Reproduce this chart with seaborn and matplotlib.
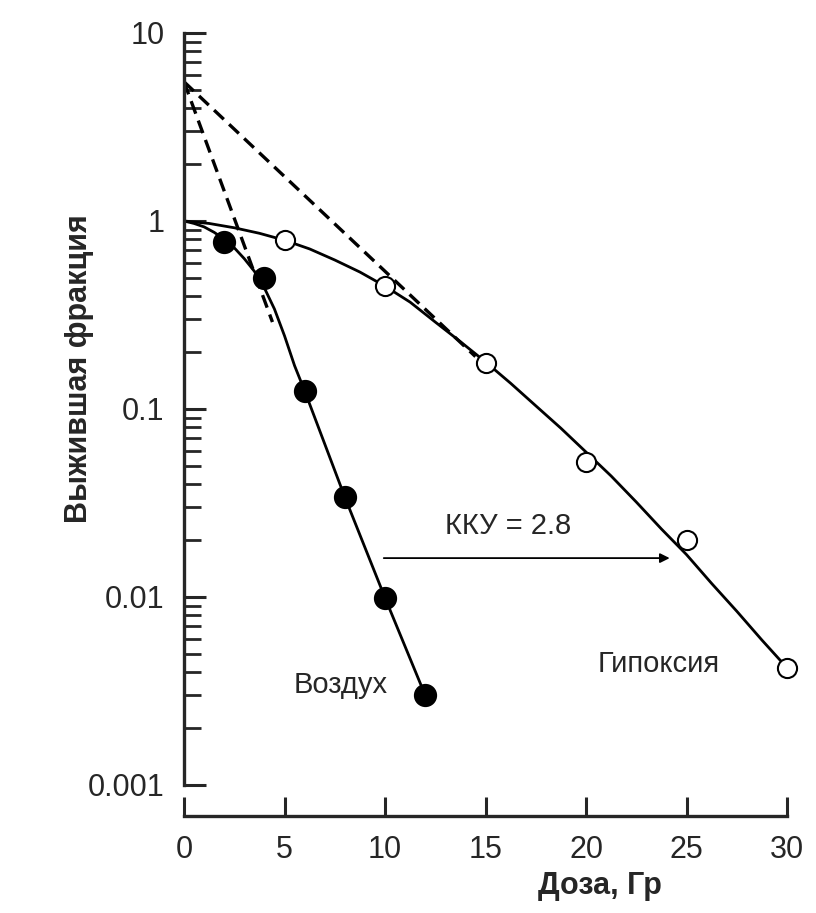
import matplotlib
matplotlib.use("Agg")
import matplotlib.pyplot as plt
import matplotlib.ticker as mticker
import seaborn as sns
import pandas as pd

# measured points
air_dose = [2, 4, 6, 8, 10, 12]
air_surv = [0.77, 0.50, 0.125, 0.034, 0.0099, 0.0030]
hyp_dose = [5, 10, 15, 20, 25, 30]
hyp_surv = [0.79, 0.45, 0.175, 0.052, 0.020, 0.0042]

# fitted curves
air_curve_x = [0, 0.5, 1, 1.5, 2, 2.5, 3, 3.5, 4, 4.5, 5, 5.5, 6, 8, 10, 12]
air_curve_y = [1.0, 0.97, 0.93, 0.87, 0.80, 0.72, 0.63, 0.54, 0.44, 0.34, 0.245,
               0.17, 0.125, 0.034, 0.0099, 0.0030]
hyp_curve_x = [0, 1.25, 2.5, 3.75, 5, 6.25, 7.5, 8.75, 10, 11.25, 12.5, 13.75, 15,
               16.25, 17.5, 18.75, 20, 21.25, 22.5, 23.75, 25, 26.25, 27.5, 28.75, 30]
hyp_curve_y = [1.0, 0.97, 0.92, 0.86, 0.79, 0.71, 0.62, 0.535, 0.45, 0.37, 0.29,
               0.228, 0.178, 0.137, 0.104, 0.079, 0.059, 0.044, 0.032, 0.023, 0.0168,
               0.0118, 0.0084, 0.0059, 0.0042]

# extrapolated straight parts
air_dash_x = [0, 4.4]
air_dash_y = [5.5, 0.29]
hyp_dash_x = [0, 14.5]
hyp_dash_y = [5.5, 0.19]

y_ticks = [10, 1, 0.1, 0.01, 0.001]
y_labels = ["10", "1", "0.1", "0.01", "0.001"]
x_ticks = [0, 5, 10, 15, 20, 25, 30]

sns.set_style("ticks")
plt.rcParams['font.family'] = ['Liberation Sans', 'DejaVu Sans']

fig = plt.figure(figsize=(8.16, 9.13), dpi=100)
ax = fig.add_axes([0.2255, 0.1402, 0.739, 0.8237])

lw = 2.0
sns.lineplot(x=air_curve_x, y=air_curve_y, ax=ax, color="black", lw=lw, sort=False)
sns.lineplot(x=hyp_curve_x, y=hyp_curve_y, ax=ax, color="black", lw=lw, sort=False)
ax.plot(air_dash_x, air_dash_y, color="black", lw=2.4, ls=(0, (4, 2.2)))
ax.plot(hyp_dash_x, hyp_dash_y, color="black", lw=2.4, ls=(0, (4, 2.2)))

air_df = pd.DataFrame({"dose": air_dose, "surv": air_surv})
hyp_df = pd.DataFrame({"dose": hyp_dose, "surv": hyp_surv})
sns.scatterplot(data=air_df, x="dose", y="surv", ax=ax, s=240, color="black",
                edgecolor="black", zorder=5, clip_on=False)
sns.scatterplot(data=hyp_df, x="dose", y="surv", ax=ax, s=190, color="white",
                edgecolor="black", linewidth=1.5, zorder=5, clip_on=False)

ax.set_yscale("log")
ax.set_xlim(0, 30)
ax.set_ylim(0.001, 10)
ax.yaxis.set_major_locator(mticker.FixedLocator(y_ticks))
ax.yaxis.set_major_formatter(mticker.FixedFormatter(y_labels))
ax.yaxis.set_minor_locator(mticker.LogLocator(base=10, subs=range(2, 10)))
ax.yaxis.set_minor_formatter(mticker.NullFormatter())
ax.set_xticks(x_ticks)

for s in ["top", "right"]:
    ax.spines[s].set_visible(False)
ax.spines["left"].set_linewidth(2.4)
ax.spines["bottom"].set_linewidth(2.4)
ax.spines["bottom"].set_position(("outward", 22))
ax.spines["bottom"].set_bounds(0, 30)

ax.tick_params(axis="y", which="major", direction="in", length=16, width=2.2,
               pad=14, labelsize=22)
ax.tick_params(axis="y", which="minor", direction="in", length=12, width=2.0)
ax.tick_params(axis="x", which="major", direction="in", length=14, width=2.2,
               pad=14, labelsize=22)

ax.set_ylabel("Выжившая фракция", fontsize=22, fontweight="bold")
ax.yaxis.set_label_coords(-0.15, 0.553)
ax.set_xlabel("Доза, Гр", fontsize=22, fontweight="bold")
ax.xaxis.set_label_coords(0.69, -0.115)

ax.annotate("", xy=(24.3, 0.0161), xytext=(9.8, 0.0161),
            arrowprops=dict(arrowstyle="-|>", color="black", lw=1.3,
                            mutation_scale=14))
ax.text(16.1, 0.024, "ККУ = 2.8", fontsize=21, ha="center", va="center")
ax.text(7.8, 0.0034, "Воздух", fontsize=21, ha="center", va="center")
ax.text(23.6, 0.0044, "Гипоксия", fontsize=21, ha="center", va="center")

fig.savefig("out.png", dpi=100, facecolor="white")
